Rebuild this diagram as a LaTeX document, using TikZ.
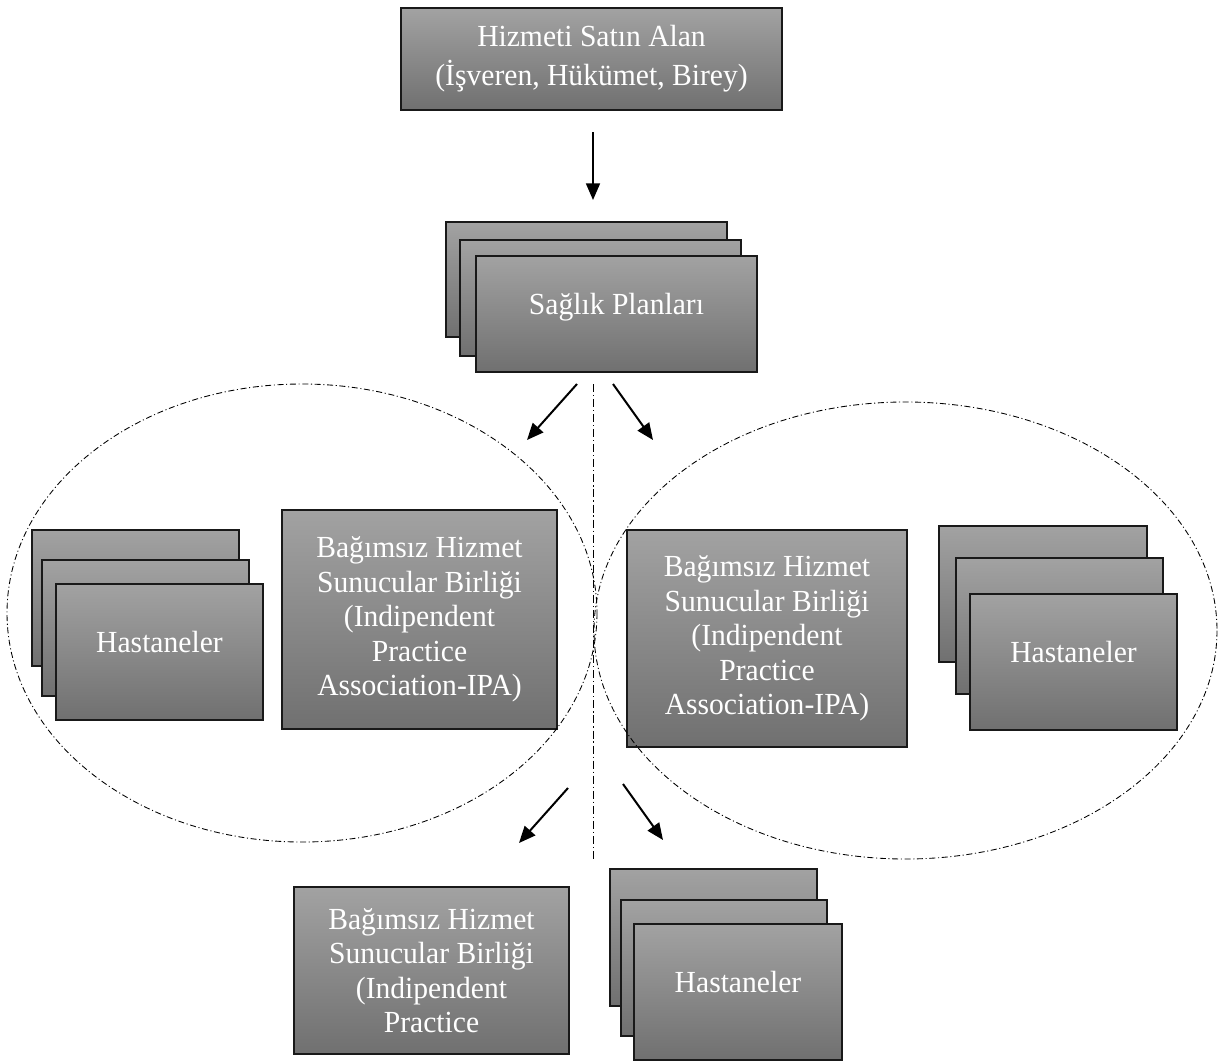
\documentclass[tikz,border=0pt]{standalone}
\usepackage{fontspec}
\setmainfont{Liberation Serif}[FakeStretch=0.965]
\usetikzlibrary{arrows.meta}
\definecolor{gtop}{RGB}{162,162,162}
\definecolor{gbot}{RGB}{112,112,112}
\definecolor{edgec}{RGB}{25,25,25}
\begin{document}
\begin{tikzpicture}[x=0.75pt,y=-0.75pt,
  gbox/.style={draw=edgec, line width=0.95pt, top color=gtop, bottom color=gbot,
    inner sep=0pt, outer sep=0pt, anchor=north west, text=white, align=center,
    font=\fontsize{23pt}{25.9pt}\selectfont},
  sz/.style 2 args={minimum width=#1*0.75pt, minimum height=#2*0.75pt},
  oneline/.style={text height=0pt, text depth=0pt},
  arr/.style={line width=1.5pt, -{Triangle[length=12.5pt,width=10.5pt]}},
  ddline/.style={line width=0.65pt, dash pattern=on 6pt off 2.2pt on 0.9pt off 2.2pt},
  ddell/.style={line width=0.65pt, dash pattern=on 4.5pt off 2pt on 0.8pt off 2pt}]
\useasboundingbox (0,0) rectangle (1221,1061);
\fill[white] (0,0) rectangle (1221,1061);

% top box
\node[gbox, sz={381}{102}, font=\fontsize{23pt}{29.25pt}\selectfont] (buyer) at (401,8)
  {Hizmeti Satın Alan\\(İşveren, Hükümet, Birey)};

% health plans stack
\node[gbox, sz={281}{115}] (sp1) at (446,222) {};
\node[gbox, sz={281}{116}] (sp2) at (460,240) {};
\node[gbox, sz={281}{116}, oneline] (sp3) at (476,256) {Sağlık Planları};

% left group
\node[gbox, sz={207}{136}] (lh1) at (32,530) {};
\node[gbox, sz={207}{136}] (lh2) at (42,560) {};
\node[gbox, sz={207}{136}, oneline] (lh3) at (56,584) {Hastaneler};
\node[gbox, sz={275}{219}] (lipa) at (282,510)
  {Bağımsız Hizmet\\Sunucular Birliği\\(Indipendent\\Practice\\Association-IPA)};

% right group
\node[gbox, sz={280}{217}] (ripa) at (627,530)
  {Bağımsız Hizmet\\Sunucular Birliği\\(Indipendent\\Practice\\Association-IPA)};
\node[gbox, sz={208}{136}] (rh1) at (939,526) {};
\node[gbox, sz={207}{136}] (rh2) at (956,558) {};
\node[gbox, sz={207}{136}, oneline] (rh3) at (970,594) {Hastaneler};

% bottom group
\node[gbox, sz={275}{167}] (bipa) at (294,887)
  {Bağımsız Hizmet\\Sunucular Birliği\\(Indipendent\\Practice};
\node[gbox, sz={207}{137}] (bh1) at (610,869) {};
\node[gbox, sz={206}{136}] (bh2) at (621,900) {};
\node[gbox, sz={208}{136}, oneline] (bh3) at (634,924) {Hastaneler};

% arrow end points
\coordinate (a0s) at (593,132);
\coordinate (a0e) at (593,200);
\coordinate (a1s) at (577,384);
\coordinate (a1e) at (527,440);
\coordinate (a2s) at (613,384);
\coordinate (a2e) at (653,440);
\coordinate (a3s) at (568,788);
\coordinate (a3e) at (519,843);
\coordinate (a4s) at (623,784);
\coordinate (a4e) at (663,840);
\coordinate (vs) at (593,384);
\coordinate (ve) at (593,861);

\draw[arr, line width=1.3pt] (a0s) -- (a0e);
\draw[arr] (a1s) -- (a1e);
\draw[arr] (a2s) -- (a2e);
\draw[arr] (a3s) -- (a3e);
\draw[arr] (a4s) -- (a4e);

% divider and groups
\draw[ddline] (vs) -- (ve);
\draw[ddell] (302,613) ellipse [x radius=295, y radius=229];
\draw[ddell] (905.5,630.5) ellipse [x radius=311.5, y radius=228.5];
\end{tikzpicture}
\end{document}
